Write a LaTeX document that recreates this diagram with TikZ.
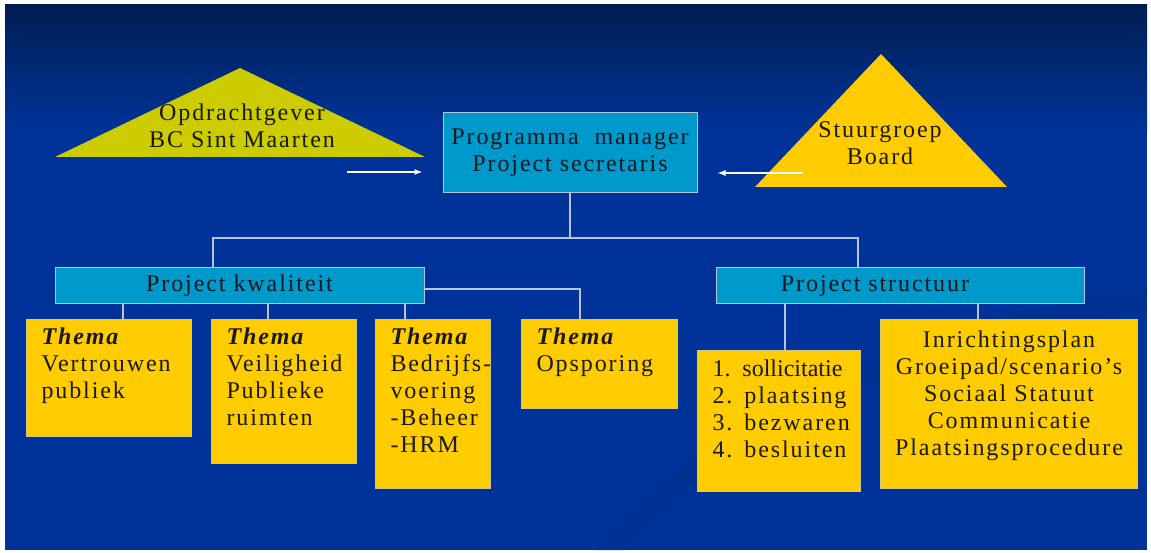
\documentclass[tikz,border=0pt]{standalone}
\usepackage{fontspec}
\setmainfont[LetterSpace=8]{Liberation Serif}
\newfontfamily\krapletter{Liberation Serif}
\usepackage{tikz}
\usetikzlibrary{arrows.meta}

\definecolor{navytop}{RGB}{0,30,82}
\definecolor{navy}{RGB}{0,51,153}
\definecolor{cyaan}{RGB}{0,153,204}
\definecolor{goud}{RGB}{255,204,0}
\definecolor{olijf}{RGB}{204,204,0}
\definecolor{lijn}{RGB}{185,195,215}
\definecolor{inkt}{RGB}{25,25,30}

\begin{document}
\begin{tikzpicture}[x=1pt, y=-1pt,
    font=\fontsize{24}{27}\selectfont,
    cyaanblok/.style={draw=lijn, fill=cyaan, line width=1pt, text=inkt, align=center},
    goudvlak/.style={draw=lijn!60!goud, fill=goud, line width=1pt, text=inkt, anchor=north west,
        inner xsep=0pt, inner ysep=9pt, text height=16pt},
    themablok/.style={goudvlak, align=left,
        execute at begin node={\leftskip=15pt\hyphenpenalty=10000\exhyphenpenalty=10000\relax}},
    verbinding/.style={draw=lijn, line width=1.2pt},
    pijl/.style={->, >={Latex[length=8pt, width=6pt]}, draw=white, fill=white, line width=1.3pt}]

    % Background
    \useasboundingbox (0,0) rectangle (1151,553);
    \fill[white] (0,0) rectangle (1151,553);
    \shade[top color=navytop, bottom color=navy] (5,5) rectangle (1147,130);
    \fill[navy] (5,130) rectangle (1147,550);
    \begin{scope}
        \clip (5,5) rectangle (1147,550);
        \draw[navytop, line width=22pt, opacity=0.1] (600,560) .. controls (720,420) and (900,330) .. (1160,300);
    \end{scope}

    % Triangles
    \fill[olijf] (55,157) -- (240,68) -- (425,157) -- cycle;
    \fill[goud] (755,187) -- (881,54) -- (1007,187) -- cycle;
    \node[text=inkt, align=center] (opdracht) at (242,126) {Opdrachtgever\\BC Sint Maarten};
    \node[text=inkt, align=center] (stuur) at (880,143) {Stuurgroep\\Board};

    % Top box
    \node[cyaanblok, minimum width=254pt, minimum height=80pt] (prog) at (570,153)
        {Programma\ \ manager\\Project secretaris};

    % Arrows
    \coordinate (pijlA) at (347,172);
    \coordinate (pijlB) at (803,173);
    \draw[pijl, shorten >=20pt] (pijlA) -- (pijlA -| prog.west);
    \draw[pijl, shorten >=20pt] (pijlB) -- (pijlB -| prog.east);

    % Project boxes
    \node[cyaanblok, minimum width=369pt, minimum height=36pt] (kwal) at (239.5,286) {Project kwaliteit};
    \node[cyaanblok, minimum width=368pt, minimum height=36pt] (struc) at (900,286) {Project structuur\hspace*{50pt}};

    % Thema boxes
    \node[themablok, text width=165pt, text depth=83pt] (t1) at (26,319)
        {\textbf{\textit{Thema}}\\Vertrouwen\\publiek};
    \node[themablok, text width=145pt, text depth=110pt] (t2) at (211,319)
        {\textbf{\textit{Thema}}\\Veiligheid\\Publieke\\ruimten};
    \node[themablok, text width=115pt, text depth=135pt] (t3) at (375,319)
        {\textbf{\textit{Thema}}\\Bedrijfs-\\voering\\-Beheer\\-HRM};
    \node[themablok, text width=156pt, text depth=55pt] (t4) at (521,319)
        {\textbf{\textit{Thema}}\\Opsporing};
    \node[themablok, inner ysep=10pt, text width=163pt, text depth=105pt] (sol) at (697,350)
        {{\krapletter 1. sollicitatie}\\2. plaatsing\\3. bezwaren\\4. besluiten};
    \node[goudvlak, align=center, inner ysep=12pt, text width=257pt, text depth=129pt] (inr) at (880,319)
        {Inrichtingsplan\\Groeipad/scenario's\\Sociaal Statuut\\Communicatie\\Plaatsingsprocedure};

    % Connectors
    \coordinate (busL) at (213,238);
    \coordinate (busR) at (858,238);
    \draw[verbinding] (prog.south) -- (prog.south |- busL);
    \draw[verbinding] (kwal.north -| busL) -- (busL) -- (busR) -- (struc.north -| busR);
    \foreach \n/\x in {t1/123, t2/268, t3/405}
        \draw[verbinding] (kwal.south -| \x,0) -- (\n.north -| \x,0);
    \draw[verbinding] ([yshift=-3pt]kwal.east) -| (t4.north -| 580,0);
    \foreach \n/\x in {sol/785, inr/978}
        \draw[verbinding] (struc.south -| \x,0) -- (\n.north -| \x,0);

\end{tikzpicture}
\end{document}
